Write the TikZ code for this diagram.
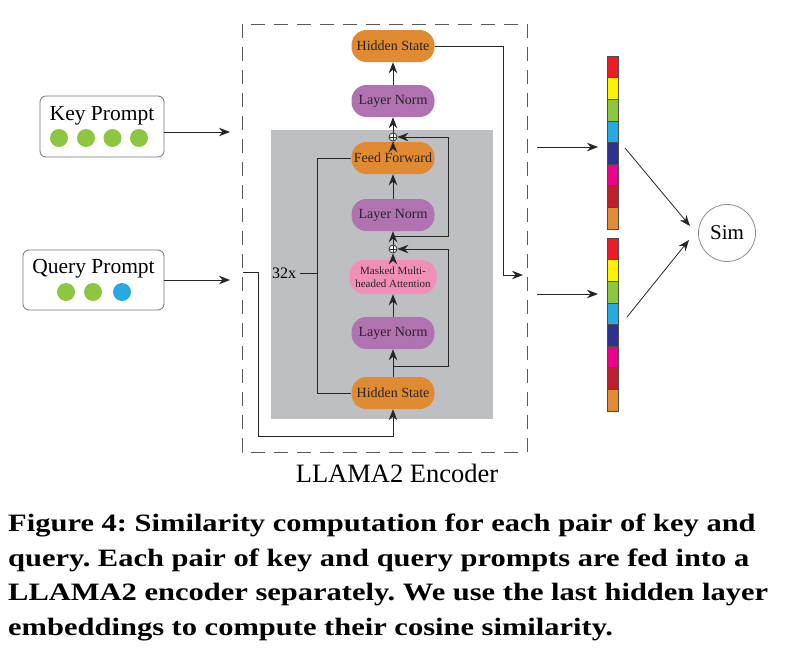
\documentclass[tikz,border=0pt]{standalone}
\usepackage{fontspec}
\setmainfont{Liberation Serif}
\newfontfamily\capfont[FakeStretch=1.22]{Liberation Serif}
\usetikzlibrary{arrows.meta}

\definecolor{hsorange}{RGB}{224,138,50}
\definecolor{lnpurple}{RGB}{176,114,176}
\definecolor{attpink}{RGB}{241,143,184}
\definecolor{blockgray}{RGB}{190,191,195}
\definecolor{tokgreen}{RGB}{141,198,63}
\definecolor{tokblue}{RGB}{39,170,225}
\definecolor{vred}{RGB}{237,28,36}
\definecolor{vyellow}{RGB}{255,242,0}
\definecolor{vgreen}{RGB}{141,198,63}
\definecolor{vcyan}{RGB}{39,170,225}
\definecolor{vnavy}{RGB}{46,49,146}
\definecolor{vmagenta}{RGB}{236,0,140}
\definecolor{vdarkred}{RGB}{190,30,45}
\definecolor{vorange}{RGB}{225,139,53}

\begin{document}
\begin{tikzpicture}[x=1pt,y=-1pt,
	block/.style={rounded corners=15pt, minimum width=83pt, minimum height=32pt, inner sep=1pt, text=black!85, font=\fontsize{14}{15}\selectfont},
	addop/.style={circle, draw=black!80, fill=white, line width=0.8pt, minimum size=8pt, inner sep=0pt,
		path picture={\draw[line width=0.6pt] (path picture bounding box.north) -- (path picture bounding box.south) (path picture bounding box.west) -- (path picture bounding box.east);}},
	prompt/.style={draw=black!55, rounded corners=6pt, line width=0.8pt, inner sep=0pt},
	token/.style={circle, minimum size=18pt, inner sep=0pt},
	cell/.style={draw=black!70, line width=0.5pt, minimum width=11pt, minimum height=21.6pt, inner sep=0pt},
	arr/.style={-{Stealth[length=11pt,width=8.5pt]}, line width=1pt, draw=black!85},
	wire/.style={line width=1pt, draw=black!85}]
\useasboundingbox (0,0) rectangle (787,654);

% encoder frame
\draw[black!65, line width=0.9pt, dash pattern=on 14pt off 9pt] (242,24) rectangle (527,452);
\node (enc) at (397,473)[font=\fontsize{26.5}{28}\selectfont]{LLAMA2 Encoder};
\fill[blockgray] (271,130) rectangle (493,419);

% layers
\node (hs0) at (393,393)[block, fill=hsorange]{Hidden State};
\node (ln1) at (393,333)[block, fill=lnpurple]{Layer Norm};
\node (att) at (393,277)[block, fill=attpink, minimum width=87pt, minimum height=34pt, align=center, font=\fontsize{11}{12.5}\selectfont]{Masked Multi-\\headed Attention};
\node (add1) at (393,249)[addop]{};
\node (ln2) at (393,215)[block, fill=lnpurple]{Layer Norm};
\node (ff) at (393,158)[block, fill=hsorange]{Feed Forward};
\node (add2) at (393,137)[addop]{};
\node (ln3) at (393,101)[block, fill=lnpurple]{Layer Norm};
\node (hs1) at (393,46)[block, fill=hsorange]{Hidden State};

\draw[arr] (hs0) -- (ln1);
\draw[arr] (ln1) -- (att);
\draw[arr] (att) -- (add1);
\draw[arr] (add1) -- (ln2);
\draw[arr] (ln2) -- (ff);
\draw[arr] (ff) -- (add2);
\draw[arr] (add2) -- (ln3);
\draw[arr] (ln3) -- (hs1);

% residuals
\coordinate (res1) at (393,366);
\coordinate (res1e) at (448,366);
\draw[arr] (res1) -- (res1e) |- (add1);
\coordinate (res2) at (393,236);
\coordinate (res2e) at (448,236);
\draw[arr] (res2) -- (res2e) |- (add2);

% repeat loop
\coordinate (loopb) at (317,393);
\coordinate (loopt) at (317,158);
\coordinate (loopm) at (317,273);
\draw[wire] (hs0.west) -- (loopb) -- (loopt) -- (ff.west);
\node (rep) at (284,273)[font=\fontsize{16}{17}\selectfont]{32x};
\draw[wire] (rep.east) -- (loopm);

% input and output of the encoder
\coordinate (inq) at (243,272);
\coordinate (inqa) at (258,272);
\coordinate (inqb) at (258,436);
\draw[arr] (inq) -- (inqa) -- (inqb) -| (hs0.south);
\coordinate (outa) at (503,46);
\coordinate (outb) at (503,275);
\coordinate (outc) at (523,275);
\draw[arr] (hs1.east) -- (outa) -- (outb) -- (outc);

% prompts
\node (key) at (102,126.5)[prompt, minimum width=124pt, minimum height=61pt]{};
\node (keyt) at (102,116)[font=\fontsize{21.5}{23}\selectfont]{Key Prompt};
\node (k1) at (59,138)[token, fill=tokgreen]{};
\node (k2) at (86,138)[token, fill=tokgreen]{};
\node (k3) at (112.5,138)[token, fill=tokgreen]{};
\node (k4) at (139,138)[token, fill=tokgreen]{};
\node (qry) at (93.5,280)[prompt, minimum width=141pt, minimum height=60pt]{};
\node (qryt) at (93.5,269)[font=\fontsize{21.5}{23}\selectfont]{Query Prompt};
\node (q1) at (66,292)[token, fill=tokgreen]{};
\node (q2) at (93,292)[token, fill=tokgreen]{};
\node (q3) at (122,292)[token, fill=tokblue]{};

\coordinate (kin) at (230,132);
\coordinate (qin) at (230,280);
\draw[arr] (key.east |- kin) -- (kin);
\draw[arr] (qry.east |- qin) -- (qin);

% embeddings
\foreach \c [count=\i] in {vred,vyellow,vgreen,vcyan,vnavy,vmagenta,vdarkred,vorange}{
	\node (ke\i) at (612.5,{56+21.6*(\i-0.5)})[cell, fill=\c]{};
	\node (qe\i) at (612.5,{238+21.6*(\i-0.5)})[cell, fill=\c]{};
}
\coordinate (kout) at (537,147);
\coordinate (kvec) at (598,147);
\coordinate (qout) at (537,294);
\coordinate (qvec) at (598,294);
\draw[arr] (kout) -- (kvec);
\draw[arr] (qout) -- (qvec);

% similarity
\node (sim) at (727,233)[circle, draw=black!45, line width=0.8pt, minimum size=57pt, font=\fontsize{21}{22}\selectfont]{Sim};
\coordinate (kfrom) at (625,148);
\coordinate (kto) at (690,226);
\coordinate (qfrom) at (627,317);
\coordinate (qto) at (689,240);
\draw[arr, line width=0.8pt] (kfrom) -- (kto);
\draw[arr, line width=0.8pt] (qfrom) -- (qto);

% caption
\node (cap) at (8,514)[anchor=north west, align=left, inner sep=0pt, font=\capfont\bfseries\frenchspacing\fontsize{25}{34.5}\selectfont]{Figure 4: Similarity computation for each pair of key and\\query. Each pair of key and query prompts are fed into a\\LLAMA2 encoder separately. We use the last hidden layer\\embeddings to compute their cosine similarity.};
\end{tikzpicture}
\end{document}
